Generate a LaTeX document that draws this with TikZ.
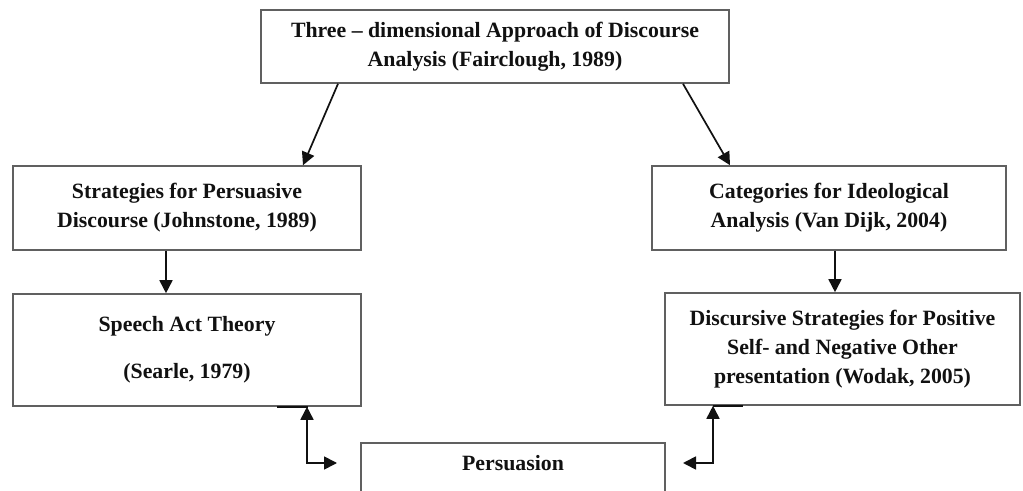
\documentclass[tikz,border=0pt]{standalone}
\usepackage{fontspec}
\setmainfont{Liberation Serif}
\usetikzlibrary{arrows.meta}
\definecolor{boxgray}{HTML}{606060}
\definecolor{ink}{HTML}{111111}
\begin{document}
\begin{tikzpicture}[x=0.5pt,y=-0.5pt,
  txt/.style={font=\fontsize{10.9}{14.6}\selectfont\bfseries, text=ink, align=center, inner sep=0pt},
  box/.style 2 args={txt, draw=boxgray, line width=0.8pt, minimum width=#1*0.5pt, minimum height=#2*0.5pt},
  tip/.tip={Triangle[length=6.5pt,width=6.5pt]},
  arr/.style={draw=ink, line width=0.85pt, -tip},
  dblarr/.style={draw=ink, line width=0.85pt, tip-tip}]
\useasboundingbox (0,0) rectangle (1023,491);
\clip (0,0) rectangle (1023,491);
\fill[white] (0,0) rectangle (1023,491);
\node[box={468}{73}] (top) at (495,46.5) {Three -- dimensional Approach of Discourse\\Analysis (Fairclough, 1989)};
\node[box={348}{84}] (sp) at (187,208) {Strategies for Persuasive\\Discourse (Johnstone, 1989)};
\node[box={348}{112}] (sa) at (187,350) {Speech Act Theory\\[9pt](Searle, 1979)};
\node[box={354}{84}] (cat) at (829,208) {Categories for Ideological\\Analysis (Van Dijk, 2004)};
\node[box={355}{112}] (ds) at (842.5,349) {Discursive Strategies for Positive\\Self- and Negative Other\\presentation (Wodak, 2005)};
\node[box={304}{100}, anchor=north] (per) at (513,442) {};
\node[txt, anchor=base] (pertxt) at (513,471) {Persuasion};
\draw[arr] (top.south -| 338,0) -- (sp.north -| 303,0);
\draw[arr] (top.south -| 683,0) -- (cat.north -| 730,0);
\draw[arr] (sp.south -| 166,0) -- (sa.north -| 166,0);
\draw[arr] (cat.south -| 835,0) -- (ds.north -| 835,0);
\coordinate (pl) at (337,463);
\coordinate (pr) at (683,463);
\draw[dblarr] (sa.south -| 307,0) |- (pl);
\draw[dblarr] (ds.south -| 713,0) |- (pr);
\draw[ink, line width=1pt] (sa.south -| 277,0) -- (sa.south -| 308,0);
\draw[ink, line width=1pt] (ds.south -| 713,0) -- (ds.south -| 743,0);
\end{tikzpicture}
\end{document}
